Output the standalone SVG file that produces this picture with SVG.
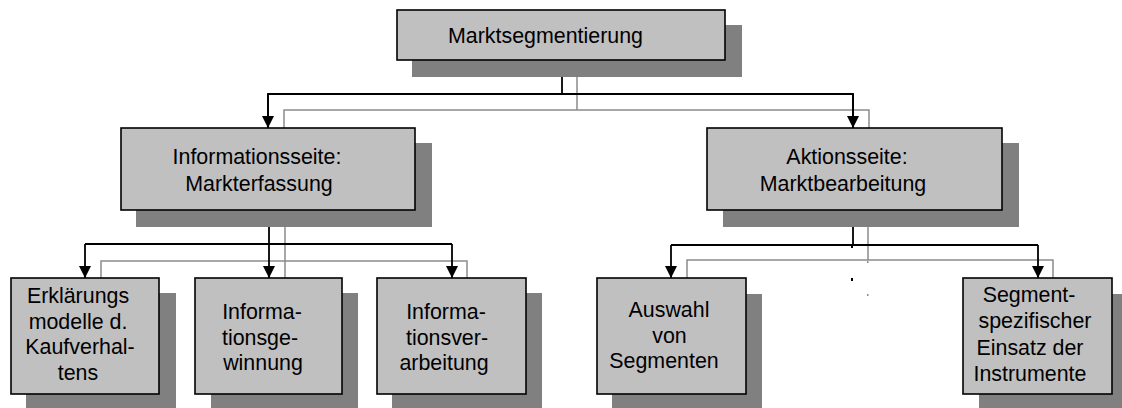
<svg xmlns="http://www.w3.org/2000/svg" width="1122" height="408" viewBox="0 0 1122 408">
<defs>
<style>
.sh{fill:#808080;stroke:none}
.bx{fill:#c0c0c0;stroke:#000;stroke-width:1.6}
.t{font-family:"Liberation Sans",Arial,sans-serif;font-size:21.4px;fill:#000;text-anchor:middle}
.k{fill:none;stroke:#000;stroke-width:1.8}
.g{fill:none;stroke:#8c8c8c;stroke-width:1.5}
</style>
<marker id="ah" markerWidth="12" markerHeight="12" viewBox="0 0 12 12" refX="12" refY="6" orient="auto" markerUnits="userSpaceOnUse">
<path d="M0,0 L12,6 L0,12 Z" fill="#000"/>
</marker>
</defs>
<rect width="1122" height="408" fill="#fff"/>
<g id="connectors">
<path class="g" d="M577,77 V110 M284,128 V110 H869 V128"/>
<path class="k" d="M562,60 V94 M268,128 V94 H853 V128"/>
<path class="k" d="M268,94 V128" marker-end="url(#ah)"/>
<path class="k" d="M853,94 V128" marker-end="url(#ah)"/>
<path class="g" d="M285,227 V278 M101,278 V261 H467 V278"/>
<path class="k" d="M269,210 V244 M85,244 H452"/>
<path class="k" d="M85,244 V278" marker-end="url(#ah)"/>
<path class="k" d="M269,244 V278" marker-end="url(#ah)"/>
<path class="k" d="M452,244 V278" marker-end="url(#ah)"/>
<path class="g" d="M868,227 V260 M687,278 V260 H1053 V278"/>
<path class="k" d="M853,210 V245 M671,245 H1038"/>
<path class="k" d="M671,245 V278" marker-end="url(#ah)"/>
<path class="k" d="M1038,245 V278" marker-end="url(#ah)"/>
<rect x="851" y="245" width="2" height="3" fill="#000"/>
<rect x="851" y="278" width="2" height="3" fill="#000"/>
<rect x="867" y="261" width="1.5" height="2" fill="#8c8c8c"/>
<rect x="867" y="294" width="1.5" height="2" fill="#8c8c8c"/>
</g>
<g id="n-top">
<rect class="sh" x="412" y="25" width="330" height="52"/>
<rect class="bx" x="397" y="10" width="328" height="50"/>
<text class="t" x="448" y="43" style="text-anchor:start">Marktsegmentierung</text>
</g>
<g id="n-info">
<rect class="sh" x="136" y="143" width="296" height="84"/>
<rect class="bx" x="121" y="128" width="294" height="82"/>
<text class="t" x="257" y="164">Informationsseite:</text>
<text class="t" x="259" y="191">Markterfassung</text>
</g>
<g id="n-aktion">
<rect class="sh" x="723" y="143" width="296" height="84"/>
<rect class="bx" x="707" y="128" width="295" height="82"/>
<text class="t" x="847" y="164">Aktionsseite:</text>
<text class="t" x="843" y="191">Marktbearbeitung</text>
</g>
<g id="n-erkl">
<rect class="sh" x="26" y="293" width="150" height="120"/>
<rect class="bx" x="11" y="278" width="148" height="116"/>
<text class="t" x="78" y="303">Erklärungs</text>
<text class="t" x="78" y="328.5">modelle d.</text>
<text class="t" x="80" y="354">Kaufverhal-</text>
<text class="t" x="78" y="380">tens</text>
</g>
<g id="n-gew">
<rect class="sh" x="211" y="293" width="147" height="120"/>
<rect class="bx" x="195" y="278" width="147" height="116"/>
<text class="t" x="262" y="319">Informa-</text>
<text class="t" x="260" y="344.5">tionsge-</text>
<text class="t" x="263" y="370">winnung</text>
</g>
<g id="n-verarb">
<rect class="sh" x="392" y="293" width="150" height="120"/>
<rect class="bx" x="377" y="278" width="149" height="116"/>
<text class="t" x="446" y="319">Informa-</text>
<text class="t" x="447" y="344.5">tionsver-</text>
<text class="t" x="444" y="370">arbeitung</text>
</g>
<g id="n-auswahl">
<rect class="sh" x="612" y="294" width="150" height="120"/>
<rect class="bx" x="597" y="278" width="149" height="116"/>
<text class="t" x="669" y="317">Auswahl</text>
<text class="t" x="669.5" y="342.5">von</text>
<text class="t" x="664" y="368">Segmenten</text>
</g>
<g id="n-einsatz">
<rect class="sh" x="979" y="294" width="150" height="120"/>
<rect class="bx" x="963" y="278" width="149" height="116"/>
<text class="t" x="1029" y="302">Segment-</text>
<text class="t" x="1035" y="328">spezifischer</text>
<text class="t" x="1030" y="355">Einsatz der</text>
<text class="t" x="1030" y="381">Instrumente</text>
</g>
</svg>
